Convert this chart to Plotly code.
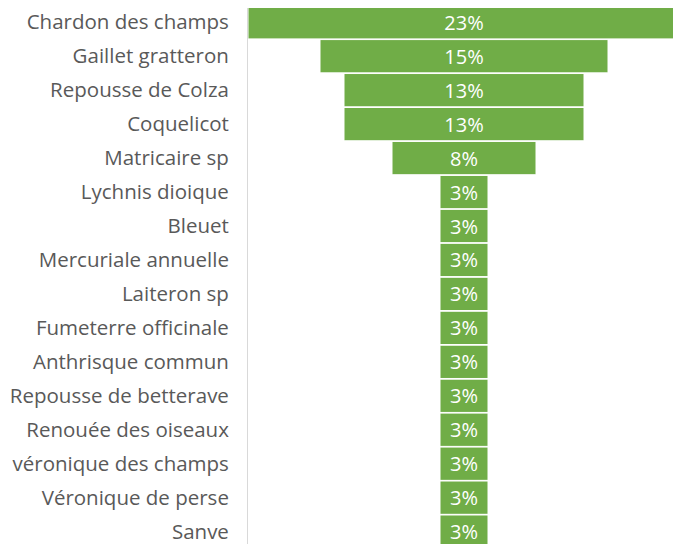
import plotly.graph_objects as go

species = ["Chardon des champs", "Gaillet gratteron", "Repousse de Colza", "Coquelicot",
           "Matricaire sp", "Lychnis dioique", "Bleuet", "Mercuriale annuelle", "Laiteron sp",
           "Fumeterre officinale", "Anthrisque commun", "Repousse de betterave",
           "Renouée des oiseaux", "véronique des champs", "Véronique de perse", "Sanve"]
counts = [9, 6, 5, 5, 3, 1, 1, 1, 1, 1, 1, 1, 1, 1, 1, 1]

fig = go.Figure(go.Funnel(
    y=species,
    x=counts,
    texttemplate="%{percentTotal:.0%}",
    textposition="inside",
    insidetextanchor="middle",
    textfont=dict(family="Open Sans", size=20, color="white"),
    marker=dict(color="#70AD47", line=dict(color="white", width=1)),
    connector=dict(visible=False),
    constraintext="none",
))

fig.update_layout(
    width=681, height=544,
    margin=dict(l=240, r=0, t=0, b=0),
    paper_bgcolor="white", plot_bgcolor="white",
    showlegend=False,
    funnelgap=0.02,
    font=dict(family="Open Sans", size=20.5, color="#595959"),
)
fig.update_xaxes(range=[-4.5, 4.6875], visible=False)
fig.update_yaxes(range=[15.6, -0.42], autorange=False, showline=True, linecolor="#d9d9d9",
                 linewidth=1, ticks="", ticklabelstandoff=14, showgrid=False,
                 tickfont=dict(family="Open Sans", size=20.5, color="#595959"))

fig.write_html("out.html")
